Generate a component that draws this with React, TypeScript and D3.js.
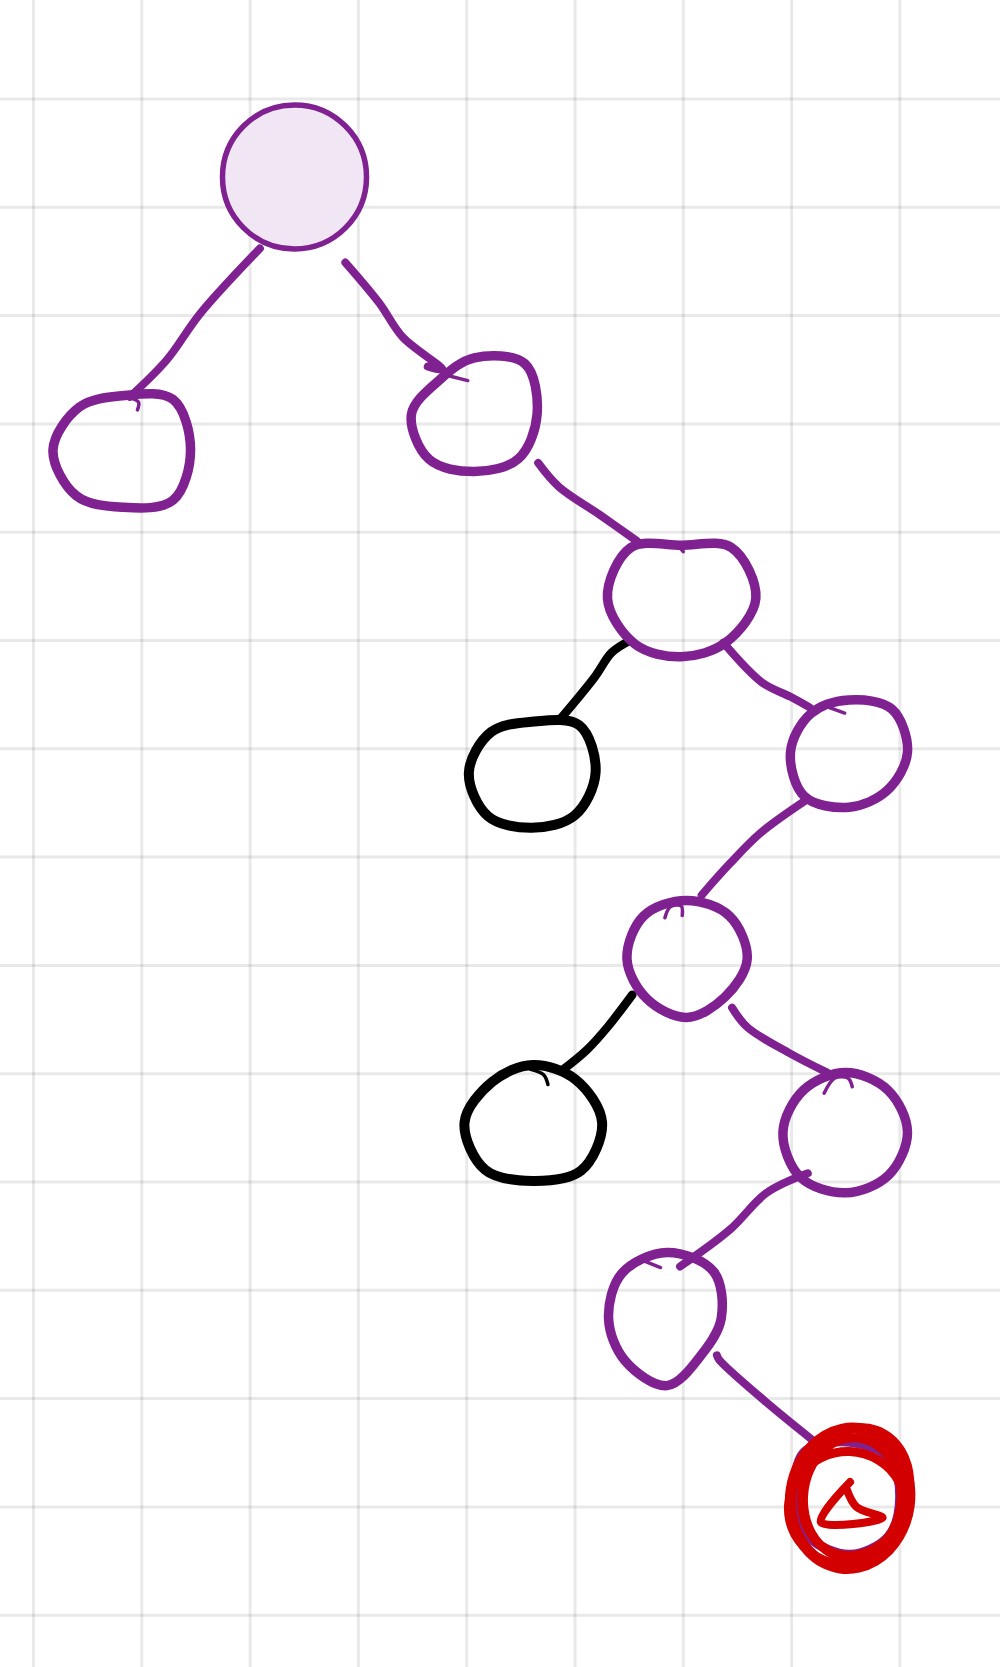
import React from 'react';
import * as d3 from 'd3';

// grid cells (one unit = one square of the paper)
const gridCols = d3.range(0, 10);
const gridRows = d3.range(-1, 15);

// node centres in grid units and the outline radius at N, NE, E, SE, S, SW, W, NW
const nodeIds = ['root', 'a', 'b', 'c', 'd', 'e', 'f', 'g', 'h', 'i', 'j'];
const nodeCol = [2.41, 0.82, 4.07, 5.98, 4.6, 7.53, 6.03, 4.61, 7.5, 5.85, 7.54];
const nodeRow = [0.72, 3.24, 2.91, 4.61, 6.22, 6.03, 7.94, 9.45, 9.54, 11.26, 12.92];
const nodeKind = ['root', 'path', 'path', 'path', 'off', 'path', 'path', 'off', 'path', 'path', 'path'];
const nodeRadii = [
  [0.665, 0.665, 0.665, 0.665, 0.665, 0.665, 0.665, 0.665],
  [0.5, 0.66, 0.63, 0.66, 0.53, 0.6, 0.64, 0.56],
  [0.52, 0.66, 0.58, 0.58, 0.53, 0.59, 0.58, 0.45],
  [0.49, 0.66, 0.69, 0.58, 0.54, 0.6, 0.68, 0.66],
  [0.47, 0.62, 0.59, 0.56, 0.51, 0.57, 0.58, 0.53],
  [0.48, 0.56, 0.54, 0.5, 0.51, 0.58, 0.54, 0.5],
  [0.54, 0.56, 0.56, 0.5, 0.54, 0.52, 0.55, 0.56],
  [0.53, 0.56, 0.64, 0.63, 0.54, 0.62, 0.63, 0.53],
  [0.55, 0.55, 0.57, 0.56, 0.56, 0.59, 0.58, 0.55],
  [0.61, 0.61, 0.5, 0.46, 0.62, 0.55, 0.54, 0.59],
  [0.52, 0.52, 0.46, 0.5, 0.52, 0.52, 0.5, 0.6],
];
// little pen marks where each outline was started and closed
const nodeTicks: [number, number][][] = [
  [],
  [[0.07, -0.48], [0.15, -0.44], [0.14, -0.37]],
  [[-0.22, -0.35], [-0.06, -0.31]],
  [[-0.05, -0.51], [0.02, -0.43]],
  [[-0.3, -0.43], [-0.04, -0.45]],
  [[-0.18, -0.41], [-0.04, -0.36]],
  [[-0.2, -0.38], [-0.15, -0.48], [-0.05, -0.49], [-0.04, -0.4]],
  [[-0.02, -0.49], [0.1, -0.44], [0.14, -0.35]],
  [[-0.2, -0.36], [-0.1, -0.5], [0.02, -0.5], [0.06, -0.42]],
  [[-0.26, -0.55], [-0.06, -0.47]],
  [],
];

// hand-drawn edges, points in grid units
const edgeKind = ['path', 'path', 'path', 'off', 'path', 'path', 'off', 'path', 'path', 'path'];
const edgePoints: [number, number][][] = [
  [[2.09, 1.38], [1.54, 1.98], [1.23, 2.41], [0.89, 2.75]],
  [[2.88, 1.51], [3.19, 1.88], [3.41, 2.2], [3.78, 2.5], [3.64, 2.47]],
  [[4.66, 3.36], [4.85, 3.58], [5.23, 3.84], [5.57, 4.08]],
  [[5.51, 5.0], [5.34, 5.11], [5.18, 5.34], [4.86, 5.73]],
  [[6.37, 5.02], [6.73, 5.39], [6.99, 5.52], [7.17, 5.62]],
  [[7.14, 6.47], [6.71, 6.78], [6.43, 7.06], [6.17, 7.35]],
  [[5.53, 8.27], [5.3, 8.57], [5.11, 8.78], [4.88, 8.97]],
  [[6.45, 8.39], [6.59, 8.57], [6.98, 8.81], [7.33, 8.99]],
  [[7.15, 9.92], [6.77, 10.1], [6.43, 10.44], [5.97, 10.78]],
  [[6.31, 11.6], [6.33, 11.64], [6.75, 12.02], [7.19, 12.38]],
];

// red scribble around the target node: offset, radii (grid units), tilt in degrees
const loopDx = [0.0, 0.05, -0.03, 0.02];
const loopDy = [0.0, -0.06, 0.09, 0.0];
const loopRx = [0.55, 0.49, 0.54, 0.45];
const loopRy = [0.65, 0.6, 0.52, 0.56];
const loopTilt = [8, 18, -12, 4];
const trianglePts: [number, number][] = [[0.0, -0.15], [-0.27, 0.22], [0.3, 0.18], [0.06, 0.08], [-0.03, -0.08]];

const PURPLE = '#7f2190';
const RED = '#d30000';

export default function App() {
  const width = 1000;
  const height = 1667;
  const x = d3.scaleLinear().domain([0, 1]).range([33.5, 141.8]);
  const y = d3.scaleLinear().domain([0, 1]).range([99, 207.3]);
  const unit = x(1) - x(0);

  const outline = d3
    .lineRadial<number>()
    .angle((_, i) => (i * Math.PI) / 4)
    .radius((r) => r * unit)
    .curve(d3.curveCatmullRomClosed.alpha(0.5));

  const stroke = d3
    .line<[number, number]>()
    .x((p) => x(p[0]))
    .y((p) => y(p[1]))
    .curve(d3.curveCatmullRom.alpha(0.5));

  const local = d3
    .line<[number, number]>()
    .x((p) => p[0] * unit)
    .y((p) => p[1] * unit)
    .curve(d3.curveCatmullRom.alpha(0.5));

  // angle 0 points up, so sin goes with the horizontal radius
  const ellipse = (rx: number, ry: number) =>
    d3
      .lineRadial<number>()
      .angle((t) => t)
      .radius((t) => {
        const a = rx * unit;
        const b = ry * unit;
        return (a * b) / Math.sqrt((b * Math.sin(t)) ** 2 + (a * Math.cos(t)) ** 2);
      })
      .curve(d3.curveCardinalClosed)(d3.range(0, 2 * Math.PI, Math.PI / 12));

  const jIdx = nodeIds.indexOf('j');

  return (
    <svg
      width={width}
      height={height}
      style={{ position: 'absolute', left: 0, top: 0, background: '#fff' }}
    >
      <g className="grid" stroke="rgba(0,0,0,0.085)" strokeWidth={3}>
        {gridCols.map((c) => (
          <line key={'c' + c} x1={x(c)} x2={x(c)} y1={0} y2={height} />
        ))}
        {gridRows.map((r) => (
          <line key={'r' + r} x1={0} x2={width} y1={y(r)} y2={y(r)} />
        ))}
      </g>

      <g className="edges" fill="none" strokeLinecap="round" strokeLinejoin="round">
        {edgePoints.map((pts, i) => (
          <path
            key={i}
            d={stroke(pts) || ''}
            stroke={edgeKind[i] === 'off' ? '#000' : PURPLE}
            strokeWidth={edgeKind[i] === 'off' ? 8.5 : 8}
          />
        ))}
      </g>

      <g className="nodes" strokeLinejoin="round" strokeLinecap="round">
        {nodeIds.map((id, i) => {
          const kind = nodeKind[i];
          const color = kind === 'off' ? '#000' : PURPLE;
          return (
            <g key={id} transform={`translate(${x(nodeCol[i])},${y(nodeRow[i])})`}>
              {kind === 'root' ? (
                <circle r={nodeRadii[i][0] * unit} fill="#f1e6f3" stroke={PURPLE} strokeWidth={5.5} />
              ) : (
                <path
                  d={outline(nodeRadii[i]) || ''}
                  fill="none"
                  stroke={color}
                  strokeWidth={kind === 'off' ? 10 : 9.5}
                />
              )}
              {nodeTicks[i].length > 0 && (
                <path d={local(nodeTicks[i]) || ''} fill="none" stroke={color} strokeWidth={3.5} />
              )}
            </g>
          );
        })}
      </g>

      <g
        className="target"
        transform={`translate(${x(nodeCol[jIdx])},${y(nodeRow[jIdx])})`}
        fill="none"
        stroke={RED}
        strokeLinecap="round"
        strokeLinejoin="round"
      >
        {loopRx.map((rx, i) => (
          <path
            key={i}
            d={ellipse(rx, loopRy[i]) || ''}
            transform={`translate(${loopDx[i] * unit},${loopDy[i] * unit}) rotate(${loopTilt[i]})`}
            strokeWidth={i === 0 ? 11 : 9}
          />
        ))}
        <path
          d={(d3.line<[number, number]>().x((p) => p[0] * unit).y((p) => p[1] * unit).curve(d3.curveCatmullRom)(trianglePts)) || ''}
          strokeWidth={8}
        />
      </g>
    </svg>
  );
}
